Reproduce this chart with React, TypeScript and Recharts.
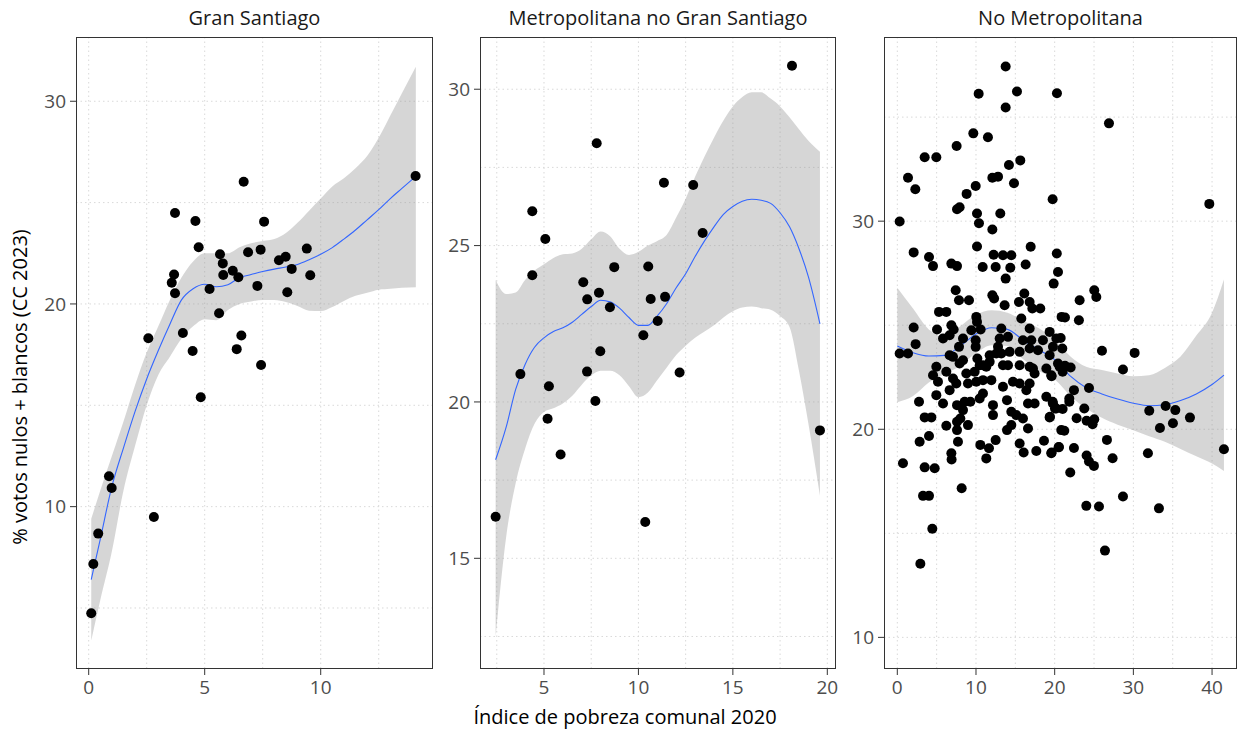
import React from 'react';
import { ComposedChart, Scatter, Line, Area, XAxis, YAxis, CartesianGrid } from 'recharts';

// ---------- Panel 1: Gran Santiago ----------
const gsPoints: [number, number][] = [
  [14.09, 26.31], [6.68, 26.03], [3.72, 24.49], [4.6, 24.09], [7.56, 24.06], [4.74, 22.8],
  [5.66, 22.45], [6.87, 22.55], [7.41, 22.68], [9.4, 22.73], [5.78, 22.0], [8.2, 22.16],
  [8.49, 22.33], [6.21, 21.64], [3.68, 21.45], [3.58, 21.05], [3.72, 20.53], [5.8, 21.43],
  [6.45, 21.32], [8.75, 21.73], [9.55, 21.42], [5.21, 20.74], [7.27, 20.89], [8.56, 20.58],
  [5.62, 19.54], [2.57, 18.31], [4.06, 18.57], [4.48, 17.68], [6.58, 18.44], [6.38, 17.77],
  [7.43, 16.99], [4.83, 15.4], [0.875, 11.5], [0.99, 10.92], [2.81, 9.49], [0.41, 8.67],
  [0.2, 7.17], [0.11, 4.74],
];
const gsBandX = [0.11, 0.5, 1, 1.5, 2, 2.5, 3, 3.5, 4, 4.5, 5, 5.5, 6, 6.5, 7, 7.5, 8, 8.5, 9, 9.5, 10, 10.5, 11, 11.5, 12, 12.5, 13, 13.5, 14.1];
const gsFit = [6.4, 8.4, 11.0, 12.9, 14.7, 16.3, 17.7, 19.0, 20.2, 20.75, 20.97, 20.85, 20.95, 21.3, 21.45, 21.6, 21.72, 21.82, 21.95, 22.18, 22.45, 22.78, 23.2, 23.65, 24.15, 24.65, 25.2, 25.7, 26.3];
const gsUpper = [9.4, 10.8, 12.5, 14.2, 16.0, 17.6, 18.9, 20.2, 21.3, 22.1, 22.5, 22.5, 22.5, 22.8, 23.0, 23.1, 23.2, 23.5, 24.0, 24.6, 25.2, 25.8, 26.2, 26.7, 27.3, 28.2, 29.3, 30.4, 31.7];
const gsLower = [3.4, 5.4, 7.8, 10.8, 13.0, 15.0, 16.5, 17.4, 18.3, 18.9, 19.25, 19.2, 19.7, 20.0, 20.12, 20.2, 20.2, 20.1, 19.9, 19.67, 19.65, 19.85, 20.15, 20.4, 20.55, 20.7, 20.75, 20.8, 20.82];

// ---------- Panel 2: Metropolitana no Gran Santiago ----------
const mnPoints: [number, number][] = [
  [18.13, 30.75], [7.79, 28.27], [11.35, 27.01], [12.9, 26.94], [4.38, 26.1], [5.07, 25.21],
  [13.4, 25.4], [4.38, 24.05], [8.72, 24.31], [10.52, 24.33], [7.08, 23.83], [7.29, 23.28],
  [7.91, 23.49], [8.49, 23.03], [10.65, 23.29], [11.41, 23.36], [11.02, 22.59], [10.26, 22.13],
  [7.98, 21.62], [3.75, 20.89], [7.28, 20.97], [12.18, 20.94], [5.26, 20.5], [7.72, 20.03],
  [5.19, 19.46], [5.88, 18.32], [2.44, 16.33], [10.36, 16.16], [19.61, 19.09],
];
const mnBandX = [2.44, 3, 3.5, 4, 4.5, 5, 5.5, 6, 6.5, 7, 7.5, 8, 8.5, 9, 9.5, 10, 10.5, 11, 11.5, 12, 12.5, 13, 13.5, 14, 14.5, 15, 15.5, 16, 16.5, 17, 17.5, 18, 18.5, 19, 19.61];
const mnFit = [18.15, 19.2, 20.4, 21.2, 21.75, 22.05, 22.25, 22.37, 22.55, 22.8, 23.05, 23.25, 23.2, 23.0, 22.7, 22.45, 22.45, 22.75, 23.15, 23.65, 24.1, 24.65, 25.15, 25.6, 26.0, 26.25, 26.42, 26.48, 26.45, 26.35, 26.05, 25.6, 24.9, 24.0, 22.5];
const mnUpper = [23.9, 23.45, 23.5, 23.9, 24.2, 24.4, 24.6, 24.72, 24.75, 24.9, 25.2, 25.45, 25.3, 24.9, 24.7, 24.8, 25.0, 25.15, 25.35, 25.9, 26.5, 27.2, 27.85, 28.45, 29.0, 29.45, 29.75, 29.9, 29.9, 29.7, 29.45, 29.1, 28.72, 28.35, 28.0];
const mnLower = [12.5, 15.7, 17.4, 18.5, 19.3, 19.68, 19.8, 19.95, 20.2, 20.55, 20.85, 21.0, 21.0, 20.85, 20.5, 20.15, 20.3, 20.7, 21.1, 21.5, 21.8, 22.05, 22.25, 22.45, 22.7, 22.9, 23.02, 23.05, 23.0, 22.95, 22.75, 22.4, 21.0, 19.3, 17.0];

// ---------- Panel 3: No Metropolitana ----------
const nmPoints: [number, number][] = [
  [13.77, 37.43], [10.34, 36.12], [15.21, 36.23], [20.29, 36.15], [13.77, 35.46], [9.66, 34.22],
  [11.52, 34.03], [7.54, 33.61], [3.48, 33.07], [4.96, 33.07], [14.19, 32.7], [15.63, 32.92],
  [1.36, 32.09], [2.29, 31.53], [12.08, 32.09], [12.8, 32.14], [9.96, 31.69], [14.83, 31.82],
  [8.81, 31.31], [7.92, 30.67], [7.59, 30.57], [19.74, 31.05], [10.13, 30.37], [13.09, 30.37],
  [10.38, 29.9], [12.08, 29.6], [0.3, 29.98], [10.13, 28.78], [16.95, 28.77], [2.08, 28.5],
  [20.27, 28.45],
  [4.03, 28.28], [4.54, 27.84], [6.87, 27.96], [7.59, 27.84], [12.24, 28.39], [13.43, 28.36],
  [14.49, 28.36], [10.85, 27.8], [12.5, 27.8], [14.36, 27.76], [16.31, 27.92], [20.42, 27.56],
  [19.87, 27.0], [13.77, 27.24], [7.42, 26.68], [7.84, 26.2], [9.11, 26.2], [12.08, 26.44],
  [12.3, 26.28], [13.64, 25.96], [16.14, 26.52], [15.46, 26.12], [16.82, 26.12], [17.16, 25.8],
  [18.17, 25.8], [15.76, 25.32], [5.3, 25.64], [6.23, 25.64], [10.04, 25.4], [10.13, 25.16],
  [20.88, 25.4], [2.08, 24.89], [5.05, 24.79], [6.87, 25.0], [7.16, 24.79], [5.81, 24.36],
  [6.65, 24.52], [8.35, 24.36], [9.41, 24.76], [10.59, 24.79], [9.96, 24.28], [13.22, 24.84],
  [13.01, 24.36], [14.07, 24.44], [16.82, 24.84], [15.97, 24.28], [17.03, 24.28], [19.36, 24.68],
  [18.51, 24.28], [20.21, 24.36], [2.33, 24.09], [7.84, 23.96], [9.96, 23.96], [12.8, 23.96],
  [12.58, 23.64], [13.22, 23.64], [14.28, 23.72], [15.55, 23.72], [16.82, 23.88], [17.88, 23.8],
  [19.78, 23.96], [0.3, 23.64], [1.36, 23.64], [6.65, 23.56], [7.08, 23.48], [10.17, 23.4],
  [11.74, 23.56], [4.96, 23.0], [8.35, 23.32], [10.89, 23.08], [14.07, 23.08], [17.24, 22.92],
  [19.36, 23.56], [20.42, 23.16],
  [20.76, 24.39], [20.97, 23.88], [21.31, 25.37], [23.08, 25.24], [23.17, 26.2], [25.03, 26.68],
  [25.29, 26.36], [26.01, 23.77], [30.16, 23.67], [21.31, 23.05], [22.03, 22.97], [21.01, 22.76],
  [28.68, 22.87], [19.61, 22.55], [22.45, 21.88], [24.36, 21.98], [21.86, 21.48], [26.9, 34.7],
  [39.65, 30.83],
  [4.54, 22.6], [6.23, 22.76], [5.17, 22.28], [7.08, 22.44], [7.92, 23.16], [8.77, 22.68],
  [9.83, 22.76], [10.47, 23.08], [11.31, 23.0], [11.74, 23.24], [10.89, 22.36], [11.95, 22.36],
  [6.65, 21.88], [7.5, 22.2], [8.98, 22.2], [10.04, 22.28], [13.43, 23.08], [15.55, 23.08],
  [16.82, 23.0], [17.45, 22.68], [18.94, 22.92], [19.57, 22.6], [20.63, 23.0], [13.43, 22.04],
  [14.7, 22.28], [15.55, 22.2], [16.82, 22.2], [16.4, 21.88], [4.96, 21.64], [2.76, 21.32],
  [5.81, 21.24], [7.59, 21.16], [8.56, 21.32], [9.28, 21.32], [10.47, 21.48], [10.89, 21.72],
  [8.35, 20.92], [12.16, 21.16], [13.94, 21.4], [14.49, 20.84], [16.61, 21.24], [17.45, 21.24],
  [18.94, 21.56], [19.78, 21.24], [20.21, 21.0], [3.48, 20.57], [4.33, 20.57], [12.16, 20.68],
  [15.12, 20.68], [15.97, 20.52], [19.36, 20.57], [6.23, 20.17], [7.59, 20.36], [8.01, 20.52],
  [8.98, 20.2], [7.59, 19.96], [13.94, 19.96], [14.49, 20.2], [16.61, 20.04], [20.84, 19.96],
  [2.84, 19.4], [4.03, 19.68], [7.71, 19.4], [10.55, 19.25], [11.65, 19.09], [12.5, 19.48],
  [15.55, 19.32], [18.64, 19.45], [20.5, 19.13], [11.31, 18.6], [6.87, 18.85], [6.9, 18.55],
  [16.06, 18.88], [17.67, 18.96], [19.57, 18.85], [0.72, 18.37], [3.48, 18.17], [4.75, 18.13],
  [8.18, 17.17], [3.27, 16.8], [4.03, 16.8], [4.45, 15.22], [2.93, 13.54],
  [19.74, 21.32], [20.04, 21.0], [21.01, 20.97], [21.86, 21.32], [19.4, 20.6], [22.79, 20.53],
  [23.76, 21.0], [24.06, 20.41], [25.03, 20.48], [24.82, 20.24], [21.22, 19.93], [32.02, 20.89],
  [34.1, 21.12], [35.33, 20.92], [37.19, 20.56], [33.38, 20.06], [35.03, 20.29], [26.64, 19.49],
  [20.54, 19.15], [19.61, 18.88], [22.45, 19.1], [24.06, 18.74], [24.36, 18.45], [24.99, 18.24],
  [27.36, 18.61], [31.85, 18.85], [41.51, 19.04], [21.98, 17.92], [28.68, 16.77], [24.02, 16.32],
  [25.63, 16.29], [33.25, 16.2], [26.39, 14.17],
];
const nmBandX = [0, 2, 4, 6, 8, 10, 12, 14, 16, 18, 20, 22, 24, 26, 28, 30, 32, 34, 36, 38, 40, 41.51];
const nmFit = [24.0, 23.68, 23.52, 23.55, 24.0, 24.58, 24.88, 24.8, 24.28, 23.82, 23.35, 22.55, 22.0, 21.7, 21.45, 21.25, 21.13, 21.18, 21.38, 21.7, 22.15, 22.6];
const nmUpper = [26.8, 25.8, 24.8, 24.45, 24.95, 25.5, 25.72, 25.6, 25.2, 24.85, 24.3, 23.5, 23.0, 22.85, 22.68, 22.55, 22.6, 22.95, 23.5, 24.5, 25.6, 27.2];
const nmLower = [21.3, 21.6, 22.25, 22.65, 23.05, 23.66, 24.04, 24.0, 23.36, 22.8, 22.4, 21.6, 21.0, 20.55, 20.22, 19.95, 19.66, 19.4, 19.05, 18.7, 18.35, 18.0];

const toBand = (xs: number[], fit: number[], lo: number[], hi: number[]) =>
  xs.map((x, i) => ({ x, fit: fit[i], band: [lo[i], hi[i]] }));
const toPts = (p: [number, number][]) => p.map(([x, y]) => ({ x, y }));

const TOP = 37;
const BOTTOM = 669;
const YW = 56;
const XH = 40;
const FONT = '"Open Sans", "Noto Sans", sans-serif';

type PanelProps = {
  title: string;
  left: number;
  right: number;
  xDomain: [number, number];
  yDomain: [number, number];
  xTicks: number[];
  yTicks: number[];
  xGrid: number[];
  yGrid: number[];
  points: { x: number; y: number }[];
  band: { x: number; fit: number; band: number[] }[];
};

const Dot = (props: any) => <circle cx={props.cx} cy={props.cy} r={5} fill="#000" />;

function Panel(p: PanelProps) {
  const pw = p.right - p.left;
  const width = pw + YW + 2;
  return (
    <>
      <div style={{ position: 'absolute', left: p.left - YW, top: 0, width, height: 732 }}>
        <ComposedChart
          width={width}
          height={732}
          data={p.band}
          margin={{ top: TOP, right: 2, bottom: 732 - BOTTOM - XH, left: 0 }}
        >
          <CartesianGrid
            stroke="#d9d9d9"
            strokeDasharray="1.5 3"
            horizontalValues={p.yGrid}
            verticalValues={p.xGrid}
          />
          <XAxis
            dataKey="x"
            type="number"
            domain={p.xDomain}
            ticks={p.xTicks}
            allowDataOverflow
            axisLine={false}
            tickLine={{ stroke: '#333' }}
            tickSize={6}
            tickMargin={6}
            height={XH}
            tick={{ fill: '#4d4d4d', fontSize: 19, fontFamily: FONT }}
          />
          <YAxis
            type="number"
            domain={p.yDomain}
            ticks={p.yTicks}
            allowDataOverflow
            axisLine={false}
            tickLine={{ stroke: '#333' }}
            tickSize={6}
            tickMargin={4}
            width={YW}
            tick={{ fill: '#4d4d4d', fontSize: 19, fontFamily: FONT }}
          />
          <Area
            dataKey="band"
            type="monotone"
            fill="#999999"
            fillOpacity={0.4}
            stroke="none"
            isAnimationActive={false}
          />
          <Line
            dataKey="fit"
            type="monotone"
            stroke="#3366FF"
            strokeWidth={1.1}
            dot={false}
            isAnimationActive={false}
          />
          <Scatter data={p.points} dataKey="y" shape={Dot} isAnimationActive={false} />
        </ComposedChart>
      </div>
      <div
        style={{
          position: 'absolute',
          left: p.left,
          top: TOP,
          width: pw,
          height: BOTTOM - TOP,
          border: '1px solid #333',
          boxSizing: 'border-box',
          pointerEvents: 'none',
        }}
      />
      <div
        style={{
          position: 'absolute',
          left: p.left,
          width: pw,
          top: 5,
          textAlign: 'center',
          fontFamily: FONT,
          fontSize: 20,
          color: '#1a1a1a',
          lineHeight: '26px',
        }}
      >
        {p.title}
      </div>
    </>
  );
}

export default function App() {
  return (
    <div style={{ position: 'absolute', left: 0, top: 0, width: 1238, height: 732, background: '#fff', overflow: 'hidden' }}>
      <Panel
        title="Gran Santiago"
        left={76}
        right={433}
        xDomain={[-0.547, 14.84]}
        yDomain={[1.99, 33.17]}
        xTicks={[0, 5, 10]}
        yTicks={[10, 20, 30]}
        xGrid={[0, 2.5, 5, 7.5, 10, 12.5]}
        yGrid={[5, 10, 15, 20, 25, 30]}
        points={toPts(gsPoints)}
        band={toBand(gsBandX, gsFit, gsLower, gsUpper)}
      />
      <Panel
        title="Metropolitana no Gran Santiago"
        left={480}
        right={836}
        xDomain={[1.612, 20.46]}
        yDomain={[11.46, 31.67]}
        xTicks={[5, 10, 15, 20]}
        yTicks={[15, 20, 25, 30]}
        xGrid={[2.5, 5, 7.5, 10, 12.5, 15, 17.5, 20]}
        yGrid={[12.5, 15, 17.5, 20, 22.5, 25, 27.5, 30]}
        points={toPts(mnPoints)}
        band={toBand(mnBandX, mnFit, mnLower, mnUpper)}
      />
      <Panel
        title="No Metropolitana"
        left={884}
        right={1237}
        xDomain={[-1.69, 43.17]}
        yDomain={[8.48, 38.85]}
        xTicks={[0, 10, 20, 30, 40]}
        yTicks={[10, 20, 30]}
        xGrid={[0, 5, 10, 15, 20, 25, 30, 35, 40]}
        yGrid={[10, 15, 20, 25, 30, 35]}
        points={toPts(nmPoints)}
        band={toBand(nmBandX, nmFit, nmLower, nmUpper)}
      />
      <div
        style={{
          position: 'absolute',
          left: 425,
          width: 400,
          top: 704,
          textAlign: 'center',
          fontFamily: FONT,
          fontSize: 20,
          color: '#000',
          lineHeight: '26px',
        }}
      >
        Índice de pobreza comunal 2020
      </div>
      <div
        style={{
          position: 'absolute',
          left: 20 - 200,
          top: 387 - 13,
          width: 400,
          textAlign: 'center',
          fontFamily: FONT,
          fontSize: 20,
          color: '#000',
          lineHeight: '26px',
          transform: 'rotate(-90deg)',
        }}
      >
        % votos nulos + blancos (CC 2023)
      </div>
    </div>
  );
}
